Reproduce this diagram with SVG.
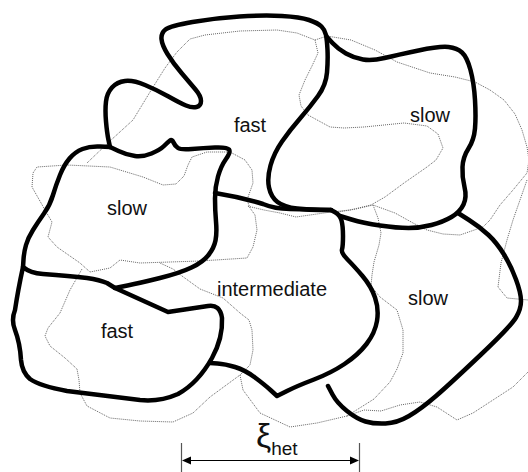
<svg xmlns="http://www.w3.org/2000/svg" width="528" height="472" viewBox="0 0 528 472">
<style>
.thick{fill:none;stroke:#000;stroke-width:4.5;stroke-linejoin:round;stroke-linecap:round}
.ghost{fill:none;stroke:#666;stroke-width:1;stroke-dasharray:1 1}
.lbl{font-family:"Liberation Sans",Arial,sans-serif;font-size:20px;fill:#111;text-anchor:middle}
</style>
<rect width="528" height="472" fill="#fff"/>
<g id="ghosts">
<path class="ghost" d="M87,163 L110,141 L133,120 L150,92 L165,68 L177,52 L190,39 L205,35 L240,31 L277,30 L297,33 L315,40 L318,53 L312,66 L305,80 L299,95 L301,106 L308,115 L330,127 L344,128 L364,127 L404,123 L427,126 L438,134 L443,148 L436,160 L427,167 L404,183 L385,197 L371,205 L350,210 L331,212 L296,217 L280,213 L264,210 L247,206"/>
<path class="ghost" d="M315,40 L327,36 L351,40 L375,50 L397,62 L430,73 L455,77 L475,82 L490,90 L504,100 L515,114 L522,130 L527,147 L529,160 L527,173 L513,190 L500,205 L490,220 L483,227 L460,235 L443,234 L427,230 L413,223 L395,213 L373,205 L356,209 L338,212"/>
<path class="ghost" d="M33,173 L37,167 L67,165 L110,167 L143,177 L163,185 L176,184 L184,176 L188,165 L192,157 L207,152 L230,152 L245,160 L252,170 L253,183 L247,200 L250,208 L255,215 L257,230 L253,247 L247,258 L200,261 L140,263 L120,260 L110,268 L90,272 L80,263 L57,247 L48,237 L52,222 L45,210 L32,187 Z"/>
<path class="ghost" d="M82,269 L70,290 L60,313 L48,328 L45,336 L50,346 L65,358 L77,369 L79,380 L80,393 L87,406 L110,418 L140,421 L173,422 L193,413 L210,397 L240,375 L250,365 L253,350 L252,330 L249,320 L240,313 L223,298 L200,289 L182,276 L173,269 L160,263"/>
<path class="ghost" d="M240,375 L243,390 L260,413 L290,427 L317,423 L347,416 L374,399 L390,382 L397,369 L403,353 L403,330 L397,310 L380,297 L371,286 L372,275 L374,262 L379,245 L381,233 L378,218 L373,205"/>
<path class="ghost" d="M347,416 L364,410 L381,411 L400,405 L420,402 L437,407 L457,420 L473,413 L493,400 L513,387 L528,372"/>
<path class="ghost" d="M527,180 L520,200 L513,220 L507,240 L501,263 L498,287 L507,298 L528,300"/>
</g>
<g id="boundaries">
<path class="thick" d="M110,147 L108.5,140 Q107,133 106,121.5 Q105,110 106,101.5 Q107,93 112,87.5 Q117,82 125,81 Q133,80 145,85 Q157,90 168.5,96.5 Q180,103 186,105.5 Q192,108 196.5,107 Q201,106 201,101 Q201,96 195.5,89.5 Q190,83 181.5,73 Q173,63 167.5,54 Q162,45 161.5,39 Q161,33 165.5,29.5 Q170,26 192.5,22 Q215,18 239.5,16.5 Q264,15 282,16 Q300,17 309,20 Q318,23 321.5,26.5 Q325,30 326,35 Q327,40 327.5,50 Q328,60 327,72.5 Q326,85 318,96 Q310,107 300,118.5 Q290,130 282,141.5 Q274,153 270.5,165.5 Q267,178 269,187.5 Q271,197 277.5,202 Q284,207 297,208.5 Q310,210 320.5,210 L331,210"/>
<path class="thick" d="M327,37 L332.5,43 Q338,49 346,53.5 Q354,58 363,59.5 Q372,61 384.5,58 Q397,55 418.5,50.5 Q440,46 448.5,47 Q457,48 462,52.5 Q467,57 470.5,70 Q474,83 475,100 Q476,117 475,128.5 Q474,140 468.5,148.5 Q463,157 462.5,167 Q462,177 464.5,187 Q467,197 463.5,204.5 Q460,212 451.5,217 Q443,222 431.5,225 Q420,228 408.5,228 Q397,228 380,225.5 Q363,223 351.5,219.5 L340,216"/>
<path class="thick" d="M331,210 L335.5,212.5 Q340,215 341.5,220.5 Q343,226 343,236 Q343,246 342,249.5 Q341,253 347.5,259.5 Q354,266 362.5,276 Q371,286 375,297.5 Q379,309 377,321 Q375,333 366.5,344 Q358,355 344.5,364 Q331,373 314,379.5 Q297,386 287,391 L277,396 L271,390.5 Q265,385 255,377.5 Q245,370 235,367 Q225,364 217.5,363.5 L210,363"/>
<path class="thick" d="M458,213 L469,220 Q480,227 488.5,235 Q497,243 504,254.5 Q511,266 516,279.5 Q521,293 521,301 Q521,309 516,317.5 Q511,326 481,354.5 Q451,383 436,396 Q421,409 409,416 Q397,423 385.5,423.5 Q374,424 365.5,421.5 Q357,419 347,411 Q337,403 332.5,394.5 L328,386"/>
<path class="thick" d="M110,147 L118.5,151 Q127,155 135,156 Q143,157 151.5,153.5 Q160,150 164,146 Q168,142 170,140.5 Q172,139 173.5,142.5 Q175,146 178,148 Q181,150 192,149 Q203,148 215,147.5 Q227,147 229,149.5 Q231,152 226,159 Q221,166 218,176.5 Q215,187 215,198.5 Q215,210 216,221.5 Q217,233 215.5,240.5 Q214,248 208.5,255 Q203,262 191.5,267.5 Q180,273 160,278 Q140,283 127.5,285.5 L115,288"/>
<path class="thick" d="M110,147 L100,146.5 Q90,146 82.5,149 Q75,152 69.5,158.5 Q64,165 60,175 Q56,185 53,195 Q50,205 44,213.5 Q38,222 33,230 Q28,238 26,245 Q24,252 23.5,259.5 L23,267"/>
<path class="thick" d="M23,267 Q30,273 43,274 Q70,276 87,278 Q100,280 107,283 L115,288 L168,312 L208,306 Q220,304 222,318 Q223,338 212,358 Q198,383 178,394 Q160,402 140,400 L67,391 Q40,386 30,379 Q22,372 21,360 Q20,343 15,330 Q11,320 15,310 Q18,290 23,267 Z"/>
<path class="thick" d="M215,193 Q240,197 263,204 Q275,209 290,209 L331,210"/>
</g>
<g id="label-fast-top"><text class="lbl" x="250" y="132">fast</text></g>
<g id="label-slow-topright"><text class="lbl" x="430" y="122">slow</text></g>
<g id="label-slow-left"><text class="lbl" x="127" y="215">slow</text></g>
<g id="label-intermediate"><text class="lbl" x="272" y="296">intermediate</text></g>
<g id="label-slow-right"><text class="lbl" x="428" y="305">slow</text></g>
<g id="label-fast-bottom"><text class="lbl" x="117" y="338">fast</text></g>
<g id="dimension">
<line x1="181.5" y1="443" x2="181.5" y2="472" stroke="#555" stroke-width="1.2"/>
<line x1="359.5" y1="443" x2="359.5" y2="472" stroke="#555" stroke-width="1.2"/>
<line x1="188" y1="460.5" x2="353" y2="460.5" stroke="#000" stroke-width="1"/>
<polygon points="182,460.5 191,456.5 191,464.5" fill="#000"/>
<polygon points="359,460.5 350,456.5 350,464.5" fill="#000"/>
<text x="256" y="447" style="font-family:'Liberation Sans',Arial,sans-serif;font-size:34px;fill:#111">ξ<tspan style="font-size:19px" dy="8">het</tspan></text>
</g>
</svg>
